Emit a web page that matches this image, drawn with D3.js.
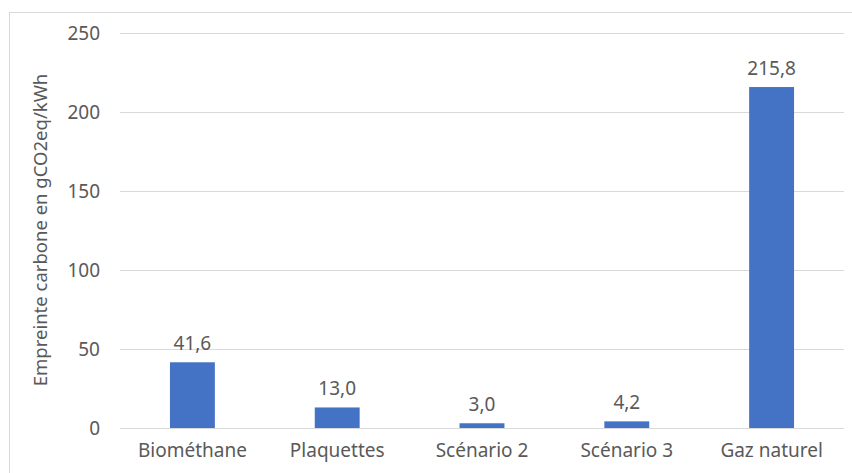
<!DOCTYPE html>
<html>
<head>
<meta charset="utf-8">
<script src="https://d3js.org/d3.v7.min.js"></script>
<style>
  body { margin: 0; background: #fff; }
  text { font-family: "Noto Sans", sans-serif; fill: #595959; }
</style>
</head>
<body>
<div id="chart"></div>
<script>
// data
var categories = ["Biométhane", "Plaquettes", "Scénario 2", "Scénario 3", "Gaz naturel"];
var values     = [41.6, 13.0, 3.0, 4.2, 215.8];
var yTicks     = [0, 50, 100, 150, 200, 250];

var chartWidth = 852, chartHeight = 473;
var margin = {top: 33, right: 8, bottom: 45, left: 120},
    width  = chartWidth - margin.left - margin.right,
    height = chartHeight - margin.top - margin.bottom;

var fmt = function(v) { return v.toFixed(1).replace(".", ","); };

var svg = d3.select("#chart").append("svg")
    .attr("width", chartWidth)
    .attr("height", chartHeight);

// chart frame (right and bottom edges run off the picture)
svg.append("rect")
    .attr("x", 9.5).attr("y", 12.5)
    .attr("width", chartWidth).attr("height", chartHeight)
    .attr("fill", "none")
    .attr("stroke", "#d9d9d9");

var g = svg.append("g")
    .attr("transform", "translate(" + margin.left + "," + margin.top + ")");

var x = d3.scaleBand()
    .domain(categories)
    .range([0, width])
    .padding(0);

var y = d3.scaleLinear()
    .domain([0, 250])
    .range([height, 0]);

// gridlines + y labels
var yAxis = g.append("g")
    .call(d3.axisLeft(y).tickValues(yTicks).tickSize(-width).tickPadding(20));
yAxis.select(".domain").remove();
yAxis.selectAll(".tick line").attr("stroke", "#d9d9d9").attr("shape-rendering", "crispEdges");
yAxis.selectAll(".tick text")
    .style("font-family", "'Noto Sans', sans-serif")
    .style("font-size", "19px")
    .attr("fill", "#595959");

// x labels
var xAxis = g.append("g")
    .attr("transform", "translate(0," + height + ")")
    .call(d3.axisBottom(x).tickSize(0).tickPadding(16));
xAxis.select(".domain").remove();
xAxis.selectAll(".tick text")
    .style("font-family", "'Noto Sans', sans-serif")
    .style("font-size", "19px")
    .attr("fill", "#595959");

var barW = x.bandwidth() * 0.31;

g.selectAll(".bar")
    .data(values)
  .enter().append("rect")
    .attr("class", "bar")
    .attr("x", function(d, i) { return x(categories[i]) + x.bandwidth() / 2 - barW / 2; })
    .attr("y", function(d) { return y(d); })
    .attr("width", barW)
    .attr("height", function(d) { return height - y(d); })
    .attr("fill", "#4472c4");

g.selectAll(".val")
    .data(values)
  .enter().append("text")
    .attr("class", "val")
    .attr("x", function(d, i) { return x(categories[i]) + x.bandwidth() / 2; })
    .attr("y", function(d) { return y(d) - 12; })
    .attr("text-anchor", "middle")
    .style("font-size", "19px")
    .text(fmt);

// y axis title
svg.append("text")
    .attr("transform", "translate(47," + (margin.top + 197) + ") rotate(-90)")
    .attr("text-anchor", "middle")
    .style("font-size", "18.5px")
    .text("Empreinte carbone en gCO2eq/kWh");
</script>
</body>
</html>
